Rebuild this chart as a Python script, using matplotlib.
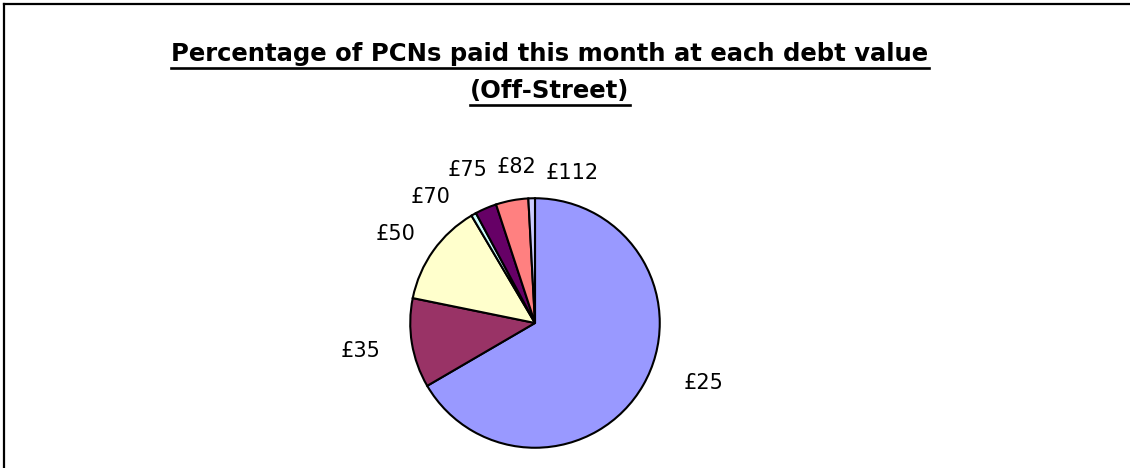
import matplotlib
matplotlib.use("Agg")
import matplotlib.pyplot as plt
from matplotlib.lines import Line2D

# ---- data ----
categories = ["£25", "£35", "£50", "£70", "£75", "£82", "£112"]
percentages = [66.6, 11.6, 13.3, 0.65, 2.8, 4.2, 0.85]
colors = ["#9999FF", "#993366", "#FFFFCC", "#CCFFFF", "#660066", "#FF8080", "#CCCCFF"]
title_lines = ["Percentage of PCNs paid this month at each debt value", "(Off-Street)"]

W, H = 1130, 468
fig = plt.figure(figsize=(W / 100, H / 100), dpi=100)
fig.patch.set_facecolor("white")
ax = fig.add_axes([0, 0, 1, 1])
ax.set_xlim(0, W)
ax.set_ylim(H, 0)
ax.axis("off")

# pie in its own axes, placed in pixel units
cx, cy, r = 535, 323, 126
pax = fig.add_axes([(cx - r) / W, (H - cy - r) / H, 2 * r / W, 2 * r / H])
wedges, _ = pax.pie(percentages, colors=colors, startangle=90, counterclock=False,
                    wedgeprops=dict(edgecolor="black", linewidth=1.5), radius=1.0)
pax.set_xlim(-1.01, 1.01)
pax.set_ylim(-1.01, 1.01)
pax.set_aspect("auto")

# labels (baseline positions in pixels, as in reference)
label_pos = {"£25": (704, 389), "£35": (361, 357), "£50": (396, 240), "£70": (431, 203),
             "£75": (468, 176), "£82": (516, 173), "£112": (572, 179)}
for c in categories:
    x, y = label_pos[c]
    ax.text(x, y, c, ha="center", va="baseline", fontsize=15,
            family="DejaVu Sans", color="black")

# border (top and left)
ax.add_line(Line2D([4, W], [4, 4], color="black", lw=1.6))
ax.add_line(Line2D([4, 4], [4, H], color="black", lw=1.6))

# title with underline
renderer = fig.canvas.get_renderer()
baselines = [61, 98]
for t, y in zip(title_lines, baselines):
    txt = ax.text(550, y, t, ha="center", va="baseline", fontsize=17.5, fontweight="bold",
                  family="DejaVu Sans", color="black")
    bb = txt.get_window_extent(renderer=renderer)
    x0, x1 = bb.x0, bb.x1
    yline = y + 7
    ax.add_line(Line2D([x0, x1], [yline, yline], color="black", lw=1.9))

fig.savefig("out.png", dpi=100, facecolor="white")
